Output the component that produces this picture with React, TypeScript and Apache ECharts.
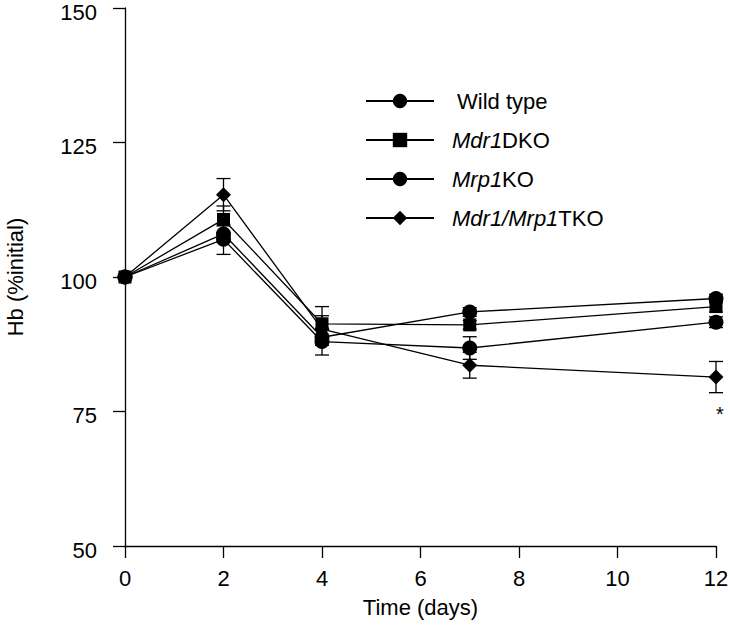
import React, { useEffect, useRef } from "react";
import * as echarts from "echarts";

const days = [0, 2, 4, 7, 12];
const seriesNames = ["Wild type", "Mdr1DKO", "Mrp1KO", "Mdr1/Mrp1TKO"];
const wildType = [100, 108.0, 88.8, 93.5, 96.0];
const mdr1DKO = [100, 110.7, 91.3, 91.1, 94.5];
const mrp1KO = [100, 107.0, 88.0, 86.8, 91.6];
const tko = [100, 115.3, 90.3, 83.6, 81.4];
const wildTypeErr = [0, 1.5, 1.5, 0.8, 0.8];
const mdr1DKOErr = [0, 2.5, 3.2, 0.8, 1.0];
const mrp1KOErr = [0, 2.8, 2.5, 2.1, 1.0];
const tkoErr = [0, 3.0, 2.5, 2.4, 2.9];
const yTicks = [50, 75, 100, 125, 150];
const xTicks = [0, 2, 4, 6, 8, 10, 12];
const significance = [{ day: 12, value: 74.6, label: "*" }];

const FONT = "'Liberation Sans', Arial, Helvetica, sans-serif";

export default function App() {
  const ref = useRef<HTMLDivElement>(null);
  useEffect(() => {
    if (!ref.current) return;
    const chart = echarts.init(ref.current, undefined, { renderer: "svg" });
    const values = [wildType, mdr1DKO, mrp1KO, tko];
    const errs = [wildTypeErr, mdr1DKOErr, mrp1KOErr, tkoErr];
    const symbols = ["circle", "rect", "circle", "diamond"];
    const sizes = [15, 13, 15, 15];

    const errData: number[][] = [];
    values.forEach((vals, s) => {
      vals.forEach((v, i) => {
        if (errs[s][i] > 0) errData.push([days[i], v - errs[s][i], v + errs[s][i]]);
      });
    });

    const lineSeries = values.map((vals, s) => ({
      type: "line",
      name: seriesNames[s],
      data: days.map((d, i) => [d, vals[i]]),
      symbol: symbols[s],
      symbolSize: sizes[s],
      showAllSymbol: true,
      lineStyle: { color: "#000", width: 1.3 },
      itemStyle: { color: "#000" },
      z: 3,
      markPoint:
        s === 3
          ? {
              symbol: "circle",
              symbolSize: 0,
              data: significance.map((m) => ({ coord: [m.day, m.value], value: m.label })),
              label: {
                show: true,
                formatter: (p: any) => p.value,
                color: "#000",
                fontSize: 20,
                fontFamily: FONT,
                offset: [4, 0],
              },
            }
          : undefined,
    }));

    const option: any = {
      animation: false,
      backgroundColor: "#fff",
      textStyle: { fontFamily: FONT },
      grid: { left: 125, right: 14, top: 8, bottom: 90, containLabel: false, outerBoundsMode: "none" },
      legend: {
        orient: "vertical",
        left: 365,
        top: 90,
        padding: 0,
        itemWidth: 68,
        itemHeight: 18,
        itemGap: 17,
        data: seriesNames,
        textStyle: {
          color: "#000",
          fontSize: 22,
          fontFamily: FONT,
          padding: [0, 0, 0, 13],
          rich: {
            i: { fontStyle: "italic", fontSize: 22, fontFamily: FONT, color: "#000" },
            n: { fontSize: 22, fontFamily: FONT, color: "#000" },
            w: { fontSize: 22, fontFamily: FONT, color: "#000", padding: [0, 0, 0, 5] },
          },
        },
        formatter: (name: string) => {
          if (name === "Wild type") return "{w|Wild type}";
          if (name === "Mdr1DKO") return "{i|Mdr1}{n|DKO}";
          if (name === "Mrp1KO") return "{i|Mrp1}{n|KO}";
          return "{i|Mdr1/Mrp1}{n|TKO}";
        },
      },
      xAxis: {
        type: "value",
        min: xTicks[0],
        max: xTicks[xTicks.length - 1],
        interval: 2,
        name: "Time (days)",
        nameLocation: "middle",
        nameGap: 50,
        nameTextStyle: { color: "#000", fontSize: 22, fontFamily: FONT },
        axisLine: { show: true, onZero: false, lineStyle: { color: "#000", width: 1.3 } },
        axisTick: { show: true, length: 12, lineStyle: { color: "#000", width: 1.3 } },
        axisLabel: { color: "#000", fontSize: 22, fontFamily: FONT, margin: 21 },
        splitLine: { show: false },
      },
      yAxis: {
        type: "value",
        min: yTicks[0],
        max: yTicks[yTicks.length - 1],
        interval: 25,
        name: "Hb (%initial)",
        nameLocation: "middle",
        nameGap: 99,
        nameTextStyle: { color: "#000", fontSize: 22, fontFamily: FONT },
        axisLine: { show: true, onZero: false, lineStyle: { color: "#000", width: 1.3 } },
        axisTick: { show: true, length: 12, lineStyle: { color: "#000", width: 1.3 } },
        axisLabel: {
          color: "#000",
          fontSize: 22,
          fontFamily: FONT,
          margin: 28,
          verticalAlign: "top",
          lineHeight: 8,
        },
        splitLine: { show: false },
      },
      series: [
        {
          type: "custom",
          name: "errors",
          data: errData,
          z: 2,
          silent: true,
          renderItem: (params: any, api: any) => {
            const x = api.value(0);
            const lo = api.coord([x, api.value(1)]);
            const hi = api.coord([x, api.value(2)]);
            const hw = 7;
            const style = { stroke: "#000", lineWidth: 1.3, fill: "none" };
            return {
              type: "group",
              children: [
                { type: "line", shape: { x1: lo[0], y1: lo[1], x2: hi[0], y2: hi[1] }, style },
                { type: "line", shape: { x1: lo[0] - hw, y1: lo[1], x2: lo[0] + hw, y2: lo[1] }, style },
                { type: "line", shape: { x1: hi[0] - hw, y1: hi[1], x2: hi[0] + hw, y2: hi[1] }, style },
              ],
            };
          },
        },
        ...lineSeries,
      ],
    };
    chart.setOption(option);
    return () => chart.dispose();
  }, []);
  return <div ref={ref} style={{ position: "fixed", left: 0, top: 0, width: 730, height: 636 }} />;
}
